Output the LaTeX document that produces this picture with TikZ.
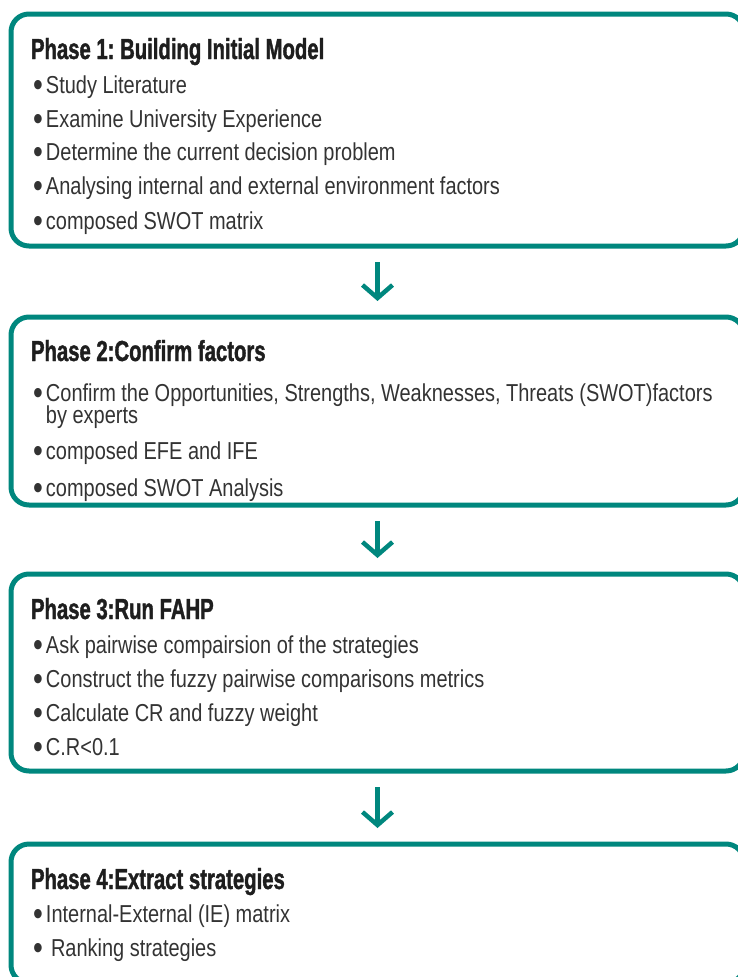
\documentclass[tikz,border=0pt]{standalone}
\usepackage{fontspec}
\usetikzlibrary{arrows.meta}
\newfontfamily\bodyfont{Liberation Sans}[FakeStretch=0.815]
\newfontfamily\titlefont{Liberation Sans}[FakeStretch=0.70,BoldFeatures={FakeBold=1.3}]
\definecolor{phteal}{HTML}{00877E}
\definecolor{txtgray}{HTML}{333333}
\definecolor{ttlgray}{HTML}{1E1E1E}
\newcommand{\bul}{\makebox[13pt][l]{\raisebox{-3.5pt}{\scalebox{1.4}{•}}}}
\tikzset{
  phasebox/.style={draw=phteal, line width=5pt, rounded corners=18pt, inner sep=0pt, outer sep=0pt},
  itemtxt/.style={anchor=base west, inner sep=0pt, outer sep=0pt, text=txtgray, font=\frenchspacing\bodyfont\fontsize{24.5}{22}\selectfont},
  titletxt/.style={anchor=base west, inner sep=0pt, outer sep=0pt, text=ttlgray, font=\frenchspacing\titlefont\bfseries\fontsize{29}{29}\selectfont},
  flowarrow/.style={draw=phteal, line width=4.5pt, shorten <=16pt, shorten >=16pt,
    -{Straight Barb[length=13pt,width=30pt,line join=miter,line cap=butt]}}
}
\begin{document}
\begin{tikzpicture}[x=1pt,y=-1pt]
\useasboundingbox (0,0) rectangle (738,977);
\clip (0,0) rectangle (738,977);
% boxes
\node[phasebox, minimum width=733pt, minimum height=232pt] (b1) at (377.5,130) {};
\node[phasebox, minimum width=733pt, minimum height=188pt] (b2) at (377.5,411) {};
\node[phasebox, minimum width=733pt, minimum height=197pt] (b3) at (377.5,672.5) {};
\node[phasebox, minimum width=733pt, minimum height=139pt] (b4) at (377.5,913.5) {};
% arrows
\draw[flowarrow] (b1.south) -- (b2.north);
\draw[flowarrow] (b2.south) -- (b3.north);
\draw[flowarrow] (b3.south) -- (b4.north);
% phase 1
\node[titletxt] (t1) at (31,59) {Phase 1: Building Initial Model};
\node[itemtxt] (p1a) at (33,93) {\bul Study Literature};
\node[itemtxt] (p1b) at (33,127) {\bul Examine University Experience};
\node[itemtxt] (p1c) at (33,160) {\bul Determine the current decision problem};
\node[itemtxt] (p1d) at (33,194) {\bul Analysing internal and external environment factors};
\node[itemtxt] (p1e) at (33,229) {\bul composed SWOT matrix};
% phase 2
\node[titletxt] (t2) at (31,361) {Phase 2:Confirm factors};
\node[itemtxt, align=left, execute at begin node={\lineskiplimit=-30pt\relax}] (p2a) at (33,423) {\bul Confirm the Opportunities, Strengths, Weaknesses, Threats (SWOT)factors\\\hspace*{13pt}by experts};
\node[itemtxt] (p2b) at (33,459) {\bul composed EFE and IFE};
\node[itemtxt] (p2c) at (33,496) {\bul composed SWOT Analysis};
% phase 3
\node[titletxt] (t3) at (31,619) {Phase 3:Run FAHP};
\node[itemtxt] (p3a) at (33,653) {\bul Ask pairwise compairsion of the strategies};
\node[itemtxt] (p3b) at (33,687) {\bul Construct the fuzzy pairwise comparisons metrics};
\node[itemtxt] (p3c) at (33,721) {\bul Calculate CR and fuzzy weight};
\node[itemtxt] (p3d) at (33,755) {\bul C.R<0.1};
% phase 4
\node[titletxt] (t4) at (31,889) {Phase 4:Extract strategies};
\node[itemtxt] (p4a) at (33,922) {\bul Internal-External (IE) matrix};
\node[itemtxt] (p4b) at (33,956) {\bul\hspace{5pt}Ranking strategies};
\end{tikzpicture}
\end{document}
